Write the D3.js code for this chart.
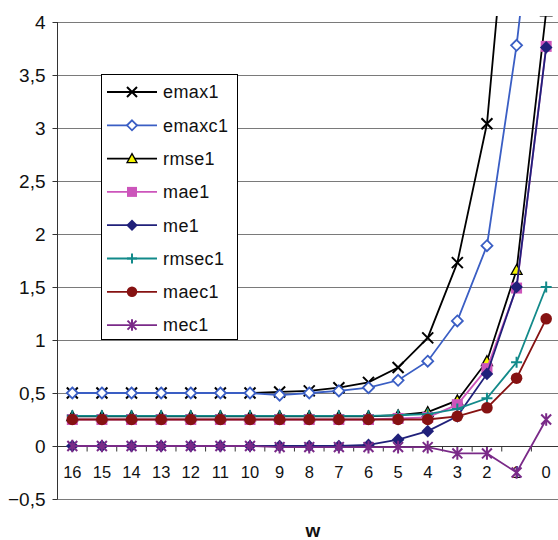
<!DOCTYPE html>
<html><head><meta charset="utf-8">
<script src="https://cdn.jsdelivr.net/npm/d3@7"></script>
<style>
html,body{margin:0;padding:0;background:#fff;}
svg{display:block;font-family:Arial,"Liberation Sans",sans-serif;}
</style></head>
<body>
<svg id="chart" width="558" height="540"></svg>
<script>
const categories = [16,15,14,13,12,11,10,9,8,7,6,5,4,3,2,1,0];
const yTicks = [-0.5,0,0.5,1,1.5,2,2.5,3,3.5,4];
const seriesNames = ["emax1","emaxc1","rmse1","mae1","me1","rmsec1","maec1","mec1"];
const emax1  = [0.5,0.5,0.5,0.5,0.5,0.5,0.5,0.51,0.52,0.55,0.6,0.74,1.02,1.73,3.04,6.1,13];
const emaxc1 = [0.5,0.5,0.5,0.5,0.5,0.5,0.5,0.48,0.5,0.52,0.55,0.62,0.8,1.18,1.89,3.78,6.2];
const rmse1  = [0.28,0.28,0.28,0.28,0.28,0.28,0.28,0.28,0.28,0.28,0.28,0.29,0.32,0.43,0.8,1.66,4.1];
const mae1   = [0.25,0.25,0.25,0.25,0.25,0.25,0.25,0.25,0.25,0.25,0.25,0.26,0.27,0.39,0.73,1.49,3.77];
const me1    = [0,0,0,0,0,0,0,0,0,0,0.01,0.06,0.14,0.28,0.68,1.5,3.76];
const rmsec1 = [0.285,0.285,0.285,0.285,0.285,0.285,0.285,0.285,0.285,0.285,0.285,0.29,0.3,0.35,0.45,0.79,1.5];
const maec1  = [0.25,0.25,0.25,0.25,0.25,0.25,0.25,0.25,0.25,0.25,0.25,0.25,0.25,0.28,0.36,0.64,1.2];
const mec1   = [0,0,0,0,0,0,0,-0.01,-0.01,-0.01,-0.01,-0.01,-0.01,-0.07,-0.07,-0.25,0.25];
const seriesValues = [emax1,emaxc1,rmse1,mae1,me1,rmsec1,maec1,mec1];
const lineColors = ["#000000","#3a5ec4","#000000","#cc55bb","#20207a","#128a8a","#861212","#7a2a88"];
const markerTypes = ["x","diamondOpen","triangle","square","diamond","plus","circle","asterisk"];

const svg = d3.select("#chart");
const plotLeft = 57, plotTop = 16;
const x = d3.scaleBand().domain(categories).range([57.5, 561]);
const xc = d => x(d) + x.bandwidth()/2;
const y = d3.scaleLinear().domain([0,4]).range([446,22]);

// gridlines
svg.append("g").selectAll("line").data(yTicks).join("line")
  .attr("x1", plotLeft).attr("x2", 558)
  .attr("y1", d => Math.round(y(d))+0.5).attr("y2", d => Math.round(y(d))+0.5)
  .attr("stroke", "#7a7a7a").attr("stroke-width", 1.2);

// y axis
const yAxis = d3.axisLeft(y).tickValues(yTicks).tickSize(5).tickPadding(8)
  .tickFormat(d => d3.format("")(d).replace(".", ","));
const gy = svg.append("g").attr("transform", `translate(${plotLeft+0.5},0)`).call(yAxis);
gy.select(".domain").attr("d", `M0,${y(4)}V${y(-0.5)}`).attr("stroke","#333");
gy.selectAll(".tick line").attr("stroke","#333");
gy.selectAll(".tick text").attr("font-size","19px").attr("fill","#111")
  .attr("font-family","Arial, 'Liberation Sans', sans-serif").attr("x",-12);

// x axis at zero
const gx = svg.append("g").attr("transform", `translate(0,${Math.round(y(0))+0.5})`);
gx.append("line").attr("x1", plotLeft).attr("x2", 558).attr("stroke","#333").attr("stroke-width",1.2);
const bounds = d3.range(categories.length+1).map(i => 57.5 + i*x.step());
gx.selectAll("line.tk").data(bounds).join("line").attr("class","tk")
  .attr("x1", d => d).attr("x2", d => d).attr("y1",0).attr("y2",5).attr("stroke","#333");
gx.selectAll("text").data(categories).join("text")
  .attr("x", d => xc(d)).attr("y", 31).attr("text-anchor","middle")
  .attr("font-size","16.5px").attr("fill","#111").text(d => d);

// axis title
svg.append("text").attr("x", 313).attr("y", 537).attr("text-anchor","middle")
  .attr("font-size","19px").attr("font-weight","bold").attr("fill","#111").text("w");

// clip
svg.append("clipPath").attr("id","clip").append("rect")
  .attr("x", 40).attr("y", plotTop).attr("width", 560).attr("height", 520);

function markerPath(t, s){
  switch(t){
    case "x": return `M${-s},${-s}L${s},${s}M${-s},${s}L${s},${-s}`;
    case "diamondOpen": return `M0,${-s}L${s},0L0,${s}L${-s},0Z`;
    case "diamond": return `M0,${-s*1.15}L${s*1.15},0L0,${s*1.15}L${-s*1.15},0Z`;
    case "triangle": return `M0,${-s}L${s},${s*0.8}L${-s},${s*0.8}Z`;
    case "square": return `M${-s},${-s}H${s}V${s}H${-s}Z`;
    case "plus": return `M${-s},0H${s}M0,${-s}V${s}`;
    case "asterisk": return `M${-s*0.9},${-s*0.9}L${s*0.9},${s*0.9}M${-s*0.9},${s*0.9}L${s*0.9},${-s*0.9}M0,${-s*1.15}V${s*1.15}`;
  }
  return "";
}
function drawMarker(g, t, color, cx, cy, s){
  if(t === "circle"){
    g.append("circle").attr("cx",cx).attr("cy",cy).attr("r",s*1.05).attr("fill",color);
    return;
  }
  const p = g.append("path").attr("d", markerPath(t,s)).attr("transform",`translate(${cx},${cy})`);
  if(t === "x" || t === "plus" || t === "asterisk"){
    p.attr("fill","none").attr("stroke",color).attr("stroke-width",2);
  } else if(t === "diamondOpen"){
    p.attr("fill","#fff").attr("stroke",color).attr("stroke-width",1.8);
  } else if(t === "triangle"){
    p.attr("fill","#f5f500").attr("stroke","#000").attr("stroke-width",1.3);
  } else {
    p.attr("fill",color);
  }
}

const plot = svg.append("g").attr("clip-path","url(#clip)");
const line = d3.line().x((d,i) => xc(categories[i])).y(d => y(d));
seriesNames.forEach((name, si) => {
  const g = plot.append("g");
  const vals = seriesValues[si];
  g.append("path").attr("d", line(vals)).attr("fill","none")
    .attr("stroke", lineColors[si]).attr("stroke-width", 1.8);
  vals.forEach((v,i) => drawMarker(g, markerTypes[si], lineColors[si], xc(categories[i]), y(v), 5.5));
});

// legend
const lg = svg.append("g");
lg.append("rect").attr("x",101.5).attr("y",74.5).attr("width",136).attr("height",265)
  .attr("fill","#fff").attr("stroke","#000").attr("stroke-width",1);
seriesNames.forEach((name, si) => {
  const ly = 92 + si*33.3;
  lg.append("line").attr("x1",107).attr("x2",157).attr("y1",ly).attr("y2",ly)
    .attr("stroke",lineColors[si]).attr("stroke-width",1.8);
  drawMarker(lg, markerTypes[si], lineColors[si], 132, ly, 5);
  lg.append("text").attr("x",163).attr("y",ly).attr("dy","0.35em")
    .attr("font-size","18px").attr("fill","#111").attr("letter-spacing","0.4px").text(name);
});
</script>
</body></html>
